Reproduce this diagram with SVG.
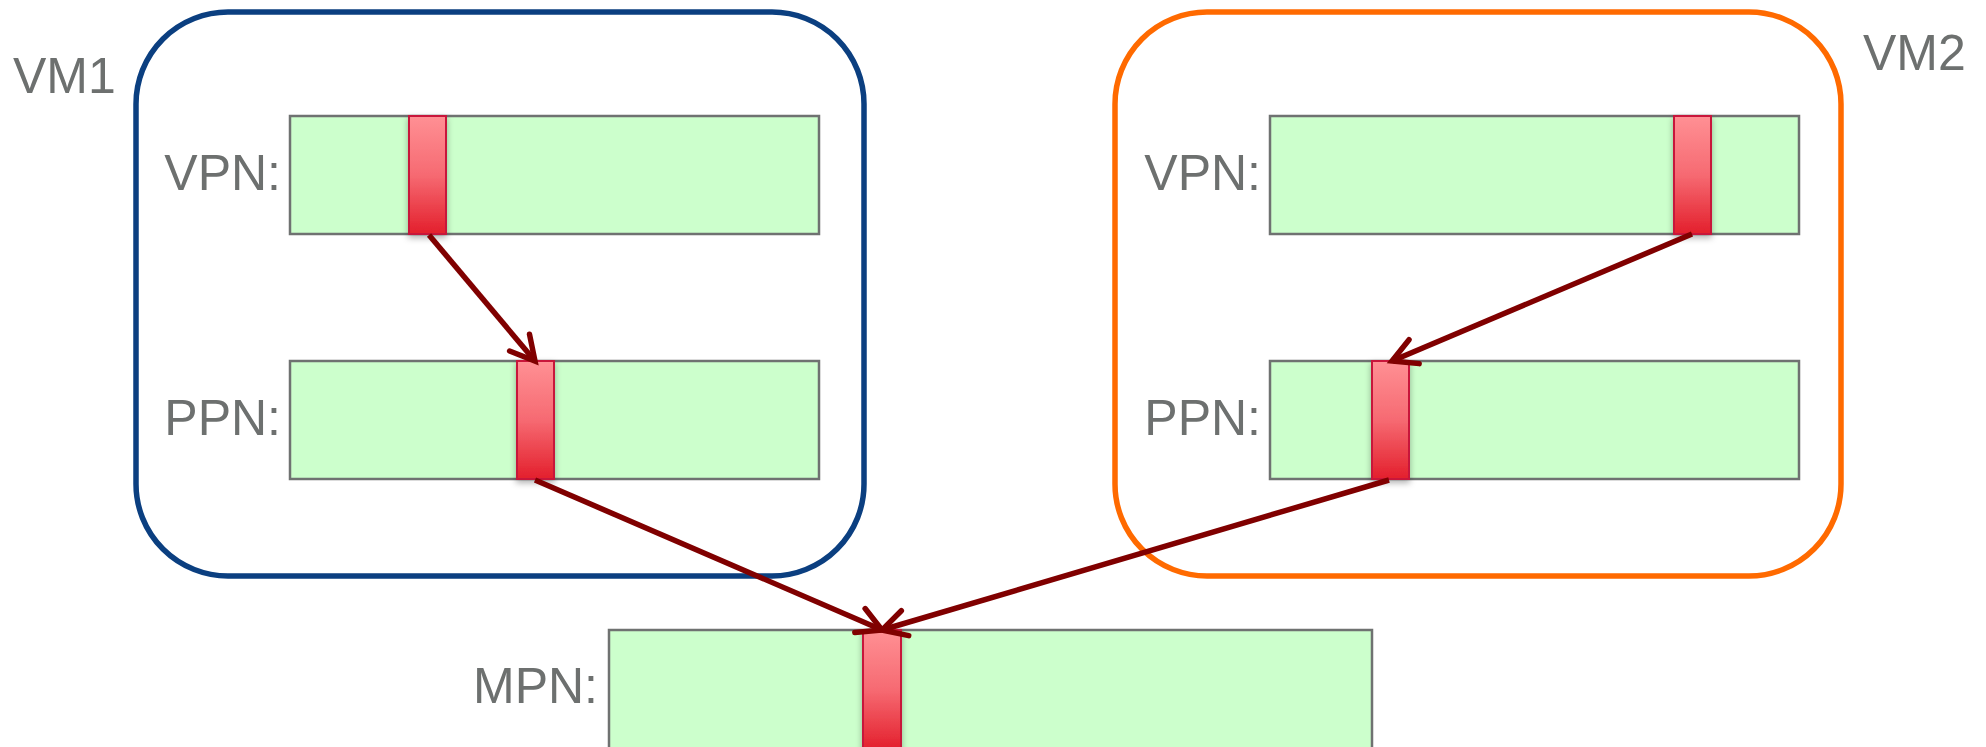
<svg xmlns="http://www.w3.org/2000/svg" width="1986" height="747" viewBox="0 0 1986 747">
  <defs>
    <style>
      .label { font-family: "Liberation Sans", Arial, sans-serif; font-size: 50px; fill: #6d706f; }
      .vm { fill: none; stroke-width: 5.5; }
      .page { fill: #ccffcc; stroke: #6f7271; stroke-width: 2.5; }
      .sel { fill: url(#selGrad); stroke: #c8173a; stroke-width: 2; filter: url(#selShadow); }
      .link { fill: none; stroke: #800000; stroke-width: 5.5; marker-end: url(#openArrow); }
    </style>
    <linearGradient id="selGrad" x1="0" y1="0" x2="0" y2="1">
      <stop offset="0" stop-color="#ff9094"/>
      <stop offset="0.5" stop-color="#f66a72"/>
      <stop offset="1" stop-color="#e31f2c"/>
    </linearGradient>
    <filter id="selShadow" x="-60%" y="-10%" width="220%" height="130%">
      <feDropShadow dx="0" dy="3" stdDeviation="3" flood-color="#000" flood-opacity="0.3"/>
    </filter>
    <marker id="openArrow" markerUnits="userSpaceOnUse" orient="auto" refX="0" refY="0" markerWidth="60" markerHeight="60" viewBox="-30 -30 60 60" overflow="visible">
      <path d="M-24,-13 L0,0 L-24,13" fill="none" stroke="#800000" stroke-width="5.5" stroke-linecap="round" stroke-linejoin="miter"/>
    </marker>
  </defs>

  <rect width="1986" height="747" fill="#ffffff"/>

  <!-- Virtual machine 1 -->
  <g id="vm1">
    <rect class="vm" x="136" y="12" width="728" height="564" rx="92" ry="92" stroke="#0b3f80"/>
    <text class="label" x="13" y="93">VM1</text>
  </g>

  <!-- Virtual machine 2 -->
  <g id="vm2">
    <rect class="vm" x="1115" y="12" width="726" height="564" rx="92" ry="92" stroke="#ff6a00"/>
    <text class="label" x="1863" y="70">VM2</text>
  </g>

  <!-- VM1 page tables -->
  <g id="vm1-vpn">
    <text class="label" x="281" y="190" text-anchor="end">VPN:</text>
    <rect class="page" x="290" y="116" width="529" height="118"/>
    <rect class="sel" x="409" y="116" width="37" height="118"/>
  </g>
  <g id="vm1-ppn">
    <text class="label" x="281" y="435" text-anchor="end">PPN:</text>
    <rect class="page" x="290" y="361" width="529" height="118"/>
    <rect class="sel" x="517" y="361" width="37" height="118"/>
  </g>

  <!-- VM2 page tables -->
  <g id="vm2-vpn">
    <text class="label" x="1261" y="190" text-anchor="end">VPN:</text>
    <rect class="page" x="1270" y="116" width="529" height="118"/>
    <rect class="sel" x="1674" y="116" width="37" height="118"/>
  </g>
  <g id="vm2-ppn">
    <text class="label" x="1261" y="435" text-anchor="end">PPN:</text>
    <rect class="page" x="1270" y="361" width="529" height="118"/>
    <rect class="sel" x="1372" y="361" width="37" height="118"/>
  </g>

  <!-- Machine page numbers -->
  <g id="mpn">
    <text class="label" x="598" y="703" text-anchor="end">MPN:</text>
    <rect class="page" x="609" y="630" width="763" height="120"/>
    <rect class="sel" x="863" y="630" width="38" height="120"/>
  </g>

  <!-- Translation arrows -->
  <g id="connectors">
    <line class="link" x1="429" y1="235" x2="535" y2="361"/>
    <line class="link" x1="535" y1="480" x2="882" y2="630"/>
    <line class="link" x1="1692" y1="234" x2="1392" y2="361"/>
    <line class="link" x1="1389" y1="480" x2="882" y2="630"/>
  </g>
</svg>
